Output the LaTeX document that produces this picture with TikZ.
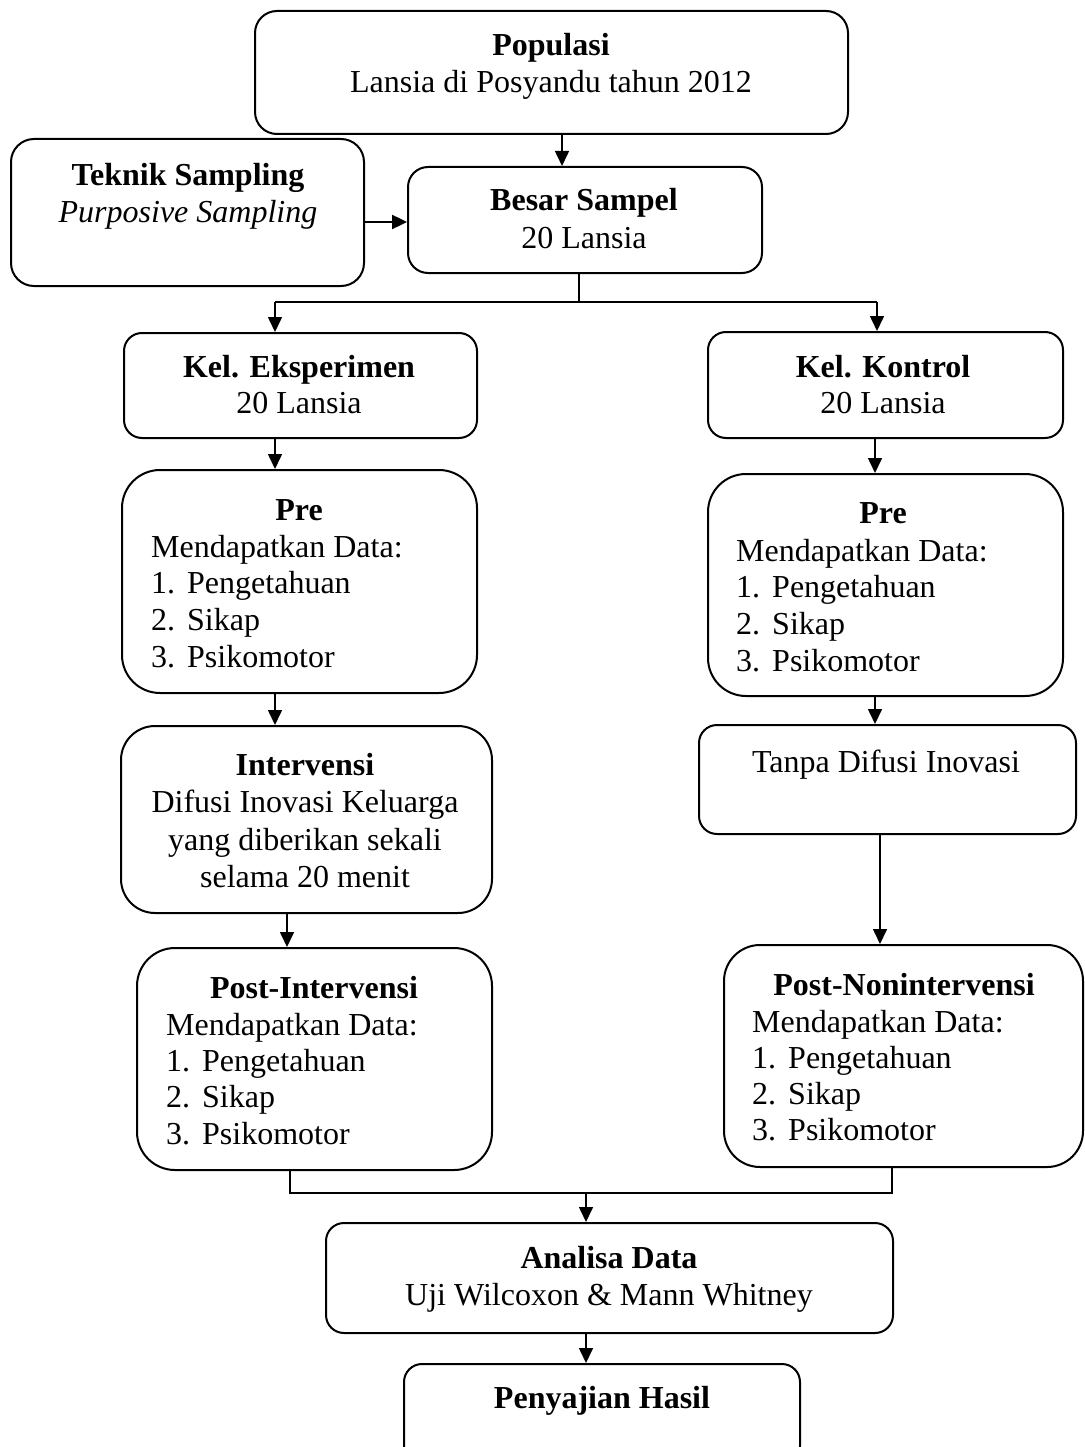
\documentclass[tikz,border=0pt]{standalone}
\usepackage{fontspec}
\setmainfont{Liberation Serif}
\usetikzlibrary{arrows.meta}
\begin{document}
\begin{tikzpicture}[x=1pt,y=-1pt,
  box/.style={draw, line width=2pt, rounded corners=#1, inner sep=0pt, anchor=north west},
  box/.default=20pt,
  txt/.style={inner sep=0pt, font=\fontsize{32}{37}\selectfont},
  ttl/.style={txt, anchor=base, font=\fontsize{32}{37}\selectfont\bfseries},
  line/.style={txt, anchor=base},
  lst/.style={txt, anchor=base west},
  arr/.style={line width=1.6pt, -{Triangle[length=15pt,width=14pt]}},
  con/.style={line width=1.6pt}]
\useasboundingbox (0,0) rectangle (1084,1447);
\clip (0,0) rectangle (1084,1447);
\newcommand{\num}[1]{\makebox[36pt][l]{#1}}

% boxes
\node[box=22pt, minimum width=593pt, minimum height=123pt] (pop) at (254,10) {};
\node[box=23pt, minimum width=353pt, minimum height=147pt] (tek) at (10,138) {};
\node[box=20pt, minimum width=354pt, minimum height=106pt] (bes) at (407,166) {};
\node[box=18pt, minimum width=353pt, minimum height=105pt] (kele) at (123,332) {};
\node[box=18pt, minimum width=355pt, minimum height=106pt] (kelk) at (707,331) {};
\node[box=38pt, minimum width=355pt, minimum height=223pt] (prel) at (121,469) {};
\node[box=38pt, minimum width=355pt, minimum height=222pt] (prer) at (707,473) {};
\node[box=34pt, minimum width=371pt, minimum height=187pt] (intv) at (120,725) {};
\node[box=18pt, minimum width=377pt, minimum height=109pt] (tanpa) at (698,724) {};
\node[box=38pt, minimum width=355pt, minimum height=222pt] (posti) at (136,947) {};
\node[box=36pt, minimum width=359pt, minimum height=222pt] (postn) at (723,944) {};
\node[box=18pt, minimum width=567pt, minimum height=110pt] (ana) at (325,1222) {};
\node[box=18pt, minimum width=396pt, minimum height=100pt] (saji) at (403,1363) {};

% texts
\node[ttl] (popA) at (551,56) {Populasi};
\node[line] (popB) at (551,93) {Lansia di Posyandu tahun 2012};
\node[ttl] (tekA) at (188,186) {Teknik Sampling};
\node[line] (tekB) at (188,223) {\itshape Purposive Sampling};
\node[ttl] (besA) at (584,211) {Besar Sampel};
\node[line] (besB) at (584,248) {20 Lansia};
\node[ttl] (keleA) at (299,377) {Kel. Eksperimen};
\node[line] (keleB) at (299,413) {20 Lansia};
\node[ttl] (kelkA) at (883,377) {Kel. Kontrol};
\node[line] (kelkB) at (883,413) {20 Lansia};

\node[ttl] (prelA) at (299,520) {Pre};
\node[lst] (prelB) at (151,557) {Mendapatkan Data:};
\node[lst] (prelC) at (151,593) {\num{1.}Pengetahuan};
\node[lst] (prelD) at (151,630) {\num{2.}Sikap};
\node[lst] (prelE) at (151,667) {\num{3.}Psikomotor};

\node[ttl] (prerA) at (883,523) {Pre};
\node[lst] (prerB) at (736,561) {Mendapatkan Data:};
\node[lst] (prerC) at (736,597) {\num{1.}Pengetahuan};
\node[lst] (prerD) at (736,634) {\num{2.}Sikap};
\node[lst] (prerE) at (736,671) {\num{3.}Psikomotor};

\node[ttl] (intvA) at (305,775) {Intervensi};
\node[line] (intvB) at (305,812) {Difusi Inovasi Keluarga};
\node[line] (intvC) at (305,850) {yang diberikan sekali};
\node[line] (intvD) at (305,887) {selama 20 menit};

\node[line] (tanpaA) at (886,772) {Tanpa Difusi Inovasi};

\node[ttl] (postiA) at (314,998) {Post-Intervensi};
\node[lst] (postiB) at (166,1035) {Mendapatkan Data:};
\node[lst] (postiC) at (166,1071) {\num{1.}Pengetahuan};
\node[lst] (postiD) at (166,1107) {\num{2.}Sikap};
\node[lst] (postiE) at (166,1144) {\num{3.}Psikomotor};

\node[ttl] (postnA) at (904,995) {Post-Nonintervensi};
\node[lst] (postnB) at (752,1032) {Mendapatkan Data:};
\node[lst] (postnC) at (752,1068) {\num{1.}Pengetahuan};
\node[lst] (postnD) at (752,1104) {\num{2.}Sikap};
\node[lst] (postnE) at (752,1140) {\num{3.}Psikomotor};

\node[ttl] (anaA) at (609,1268) {Analisa Data};
\node[line] (anaB) at (609,1305) {Uji Wilcoxon \& Mann Whitney};
\node[ttl] (sajiA) at (602,1408) {Penyajian Hasil};

% connectors
\coordinate (split) at (579,302);
\coordinate (merge) at (586,1193);
\draw[arr] (pop.south -| 562,0) -- (bes.north -| 562,0);
\draw[arr, line width=2.4pt] (tek.east |- 0,222) -- (bes.west |- 0,222);
\draw[con] (bes.south -| split) -- (split);
\draw[con] (275,302) -- (877,302);
\draw[arr] (275,302) -- (kele.north -| 275,0);
\draw[arr] (877,302) -- (kelk.north -| 877,0);
\draw[arr] (kele.south -| 275,0) -- (prel.north -| 275,0);
\draw[arr] (kelk.south -| 875,0) -- (prer.north -| 875,0);
\draw[arr] (prel.south -| 275,0) -- (intv.north -| 275,0);
\draw[arr] (prer.south -| 875,0) -- (tanpa.north -| 875,0);
\draw[arr] (intv.south -| 287,0) -- (posti.north -| 287,0);
\draw[arr] (tanpa.south -| 880,0) -- (postn.north -| 880,0);
\draw[con] (posti.south -| 290,0) -- (290,1193) -- (892,1193) -- (postn.south -| 892,0);
\draw[arr] (merge) -- (ana.north -| merge);
\draw[arr] (ana.south -| merge) -- (saji.north -| merge);
\end{tikzpicture}
\end{document}
